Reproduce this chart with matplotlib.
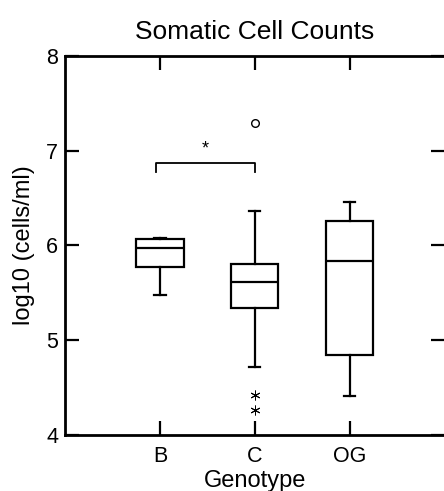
import matplotlib
matplotlib.use("Agg")
import matplotlib.pyplot as plt

plt.rcParams["font.family"] = ["Liberation Sans", "DejaVu Sans"]

# Box summaries (log10 cells/ml)
genotypes = ["B", "C", "OG"]
whisker_low = [5.48, 4.72, 4.41]
box_low = [5.77, 5.34, 4.84]
medians = [5.97, 5.61, 5.84]
box_high = [6.07, 5.81, 6.26]
whisker_high = [6.08, 6.36, 6.46]

# Outliers (circle) and extremes (asterisk)
outlier_x = ["C"]
outlier_y = [7.29]
extreme_x = ["C", "C"]
extreme_y = [4.42, 4.26]

# Significance bracket between B and C
bracket_pair = ["B", "C"]
bracket_y = 6.87
bracket_drop = 0.09
bracket_label = "*"

W, H = 444, 491
fig = plt.figure(figsize=(W / 100, H / 100), dpi=100)
ax = fig.add_axes([65 / W, (H - 435) / H, (444.5 - 65) / W, (435 - 56) / H])

positions = list(range(1, len(genotypes) + 1))
pos = dict(zip(genotypes, positions))

stats = []
for i, g in enumerate(genotypes):
    stats.append(dict(
        label=g,
        whislo=whisker_low[i],
        q1=box_low[i],
        med=medians[i],
        q3=box_high[i],
        whishi=whisker_high[i],
        fliers=[],
    ))

line_kw = dict(color="black", linewidth=1.6)
ax.bxp(
    stats,
    positions=positions,
    widths=0.5,
    showfliers=False,
    patch_artist=True,
    boxprops=dict(facecolor="white", edgecolor="black", linewidth=1.6),
    medianprops=line_kw,
    whiskerprops=line_kw,
    capprops=line_kw,
    capwidths=0.12,
)

ax.plot([pos[x] for x in outlier_x], outlier_y, linestyle="none",
        marker="o", markersize=5.5, markerfacecolor="white",
        markeredgecolor="black", markeredgewidth=1.0)
ax.plot([pos[x] for x in extreme_x], extreme_y, linestyle="none",
        marker=(6, 2, 0), markersize=7, color="black", markeredgewidth=0.7)

x0, x1 = pos[bracket_pair[0]] - 0.04, pos[bracket_pair[1]]
ax.plot([x0, x0, x1, x1],
        [bracket_y - bracket_drop, bracket_y, bracket_y, bracket_y - bracket_drop],
        color="black", linewidth=1.3)
ax.text((x0 + x1) / 2, bracket_y + 0.06, bracket_label, ha="center",
        va="bottom", fontsize=13)

ax.set_xlim(0, 4)
ax.set_ylim(4, 8)
ax.set_yticks([4, 5, 6, 7, 8])
ax.set_xticks(positions)
ax.set_xticklabels(genotypes)
ax.tick_params(direction="in", length=10, width=1.6, labelsize=15.5,
               top=True, right=True, pad=5)
ax.tick_params(axis="x", pad=8)
for sp in ax.spines.values():
    sp.set_linewidth(2)

ax.set_title("Somatic Cell Counts", fontsize=19, pad=12)
ax.set_xlabel("Genotype", fontsize=17, labelpad=2)
ax.set_ylabel("log10 (cells/ml)", fontsize=17, labelpad=8)

fig.savefig("out.png", dpi=100)
